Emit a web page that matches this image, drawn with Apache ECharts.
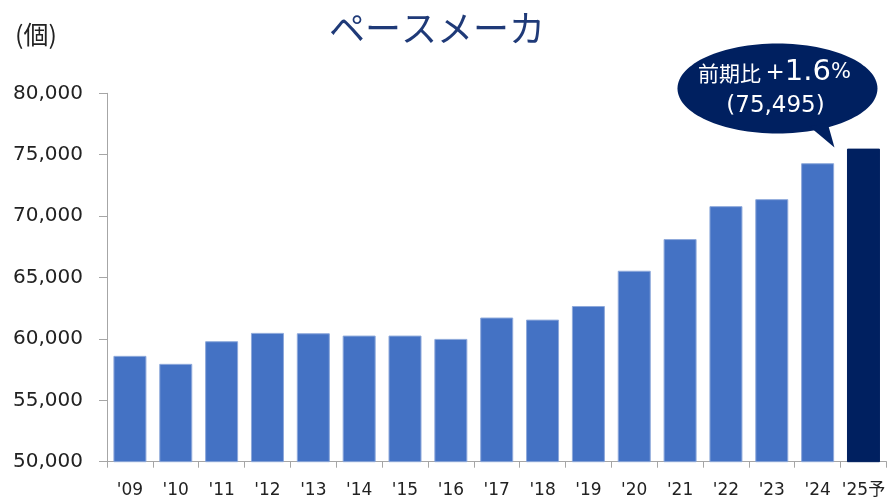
<!DOCTYPE html>
<html><head><meta charset="utf-8">
<script src="https://cdn.jsdelivr.net/npm/echarts@6/dist/echarts.min.js"></script>
<style>html,body{margin:0;padding:0;background:#fff}#c{width:888px;height:499px}</style>
</head><body><div id="c"></div>
<script>
const categories = ["'09","'10","'11","'12","'13","'14","'15","'16","'17","'18","'19","'20","'21","'22","'23","'24","'25予"];
const values = [58620,57970,59810,60490,60460,60270,60270,60000,61740,61570,62680,65550,68130,70810,71380,74306,75495];
const yTicks = [50000,55000,60000,65000,70000,75000,80000];
const titleText = 'ペースメーカ';
const unitText = '(個)';

const FONT = '"DejaVu Sans","Noto Sans CJK JP",sans-serif';
const chart = echarts.init(document.getElementById('c'), null, {renderer:'canvas'});
const lastIdx = values.length - 1;
const barData = values.map((v,i)=>({value:v, itemStyle:{color: i===lastIdx ? '#002060' : '#4472C4', borderColor: i===lastIdx ? '#002060' : '#8EA9DB'}}));

chart.setOption({
  animation:false,
  grid:{left:107, top:93.3, width:784, height:368.4, containLabel:false},
  xAxis:{type:'category', data:categories,
    axisLine:{lineStyle:{color:'#A6A6A6', width:1}},
    axisTick:{show:true, length:6, lineStyle:{color:'#A6A6A6'}, alignWithLabel:false},
    axisLabel:{color:'#222', fontSize:17, fontFamily:FONT, margin:20, interval:0}},
  yAxis:{type:'value', min:yTicks[0], max:yTicks[yTicks.length-1], interval:yTicks[1]-yTicks[0],
    splitLine:{show:false},
    axisLine:{show:true, lineStyle:{color:'#A6A6A6'}},
    axisTick:{show:true, length:8, lineStyle:{color:'#A6A6A6'}},
    axisLabel:{color:'#222', fontSize:20, fontFamily:FONT, margin:24,
      formatter:v=>v.toLocaleString('en-US')}},
  series:[{type:'bar', data:barData, barWidth:33, itemStyle:{borderWidth:1}}]
});

// speech bubble annotation anchored to last bar
const tipPt = chart.convertToPixel({xAxisIndex:0,yAxisIndex:0},[lastIdx, values[lastIdx]]);
const pct = ((values[lastIdx]/values[lastIdx-1]-1)*100).toFixed(1);
const cx = tipPt[0]-86, cy = tipPt[1]-60;
chart.setOption({graphic:[
  {type:'text', x:437, y:28, style:{text:titleText, fill:'#1F3A78', align:'center', verticalAlign:'middle', font:'36px "Noto Sans CJK JP",sans-serif'}},
  {type:'text', x:15, y:34, style:{text:unitText, fill:'#222', verticalAlign:'middle', font:'25px "Noto Sans CJK JP",sans-serif'}},
  {type:'ellipse', shape:{cx:cx, cy:cy, rx:100, ry:45}, style:{fill:'#002060'}, z:10},
  {type:'polygon', shape:{points:[[cx+32,cy+38],[cx+50,cy+34],[tipPt[0]-29,tipPt[1]-1]]}, style:{fill:'#002060'}, z:10},
  {type:'text', x:cx-3, y:cy-16, z:11, style:{
    text:'{a|前期比}{s| }{p|+}{b|'+pct+'}{c|%}', align:'center', verticalAlign:'middle',
    rich:{a:{fill:'#fff', font:'21px "Noto Sans CJK JP",sans-serif'},
          s:{fill:'#fff', font:'14px "DejaVu Sans",sans-serif'},
          p:{fill:'#fff', font:'23px "DejaVu Sans",sans-serif'},
          b:{fill:'#fff', font:'29px "DejaVu Sans",sans-serif'},
          c:{fill:'#fff', font:'21px "DejaVu Sans",sans-serif'}}}},
  {type:'text', x:cx-2, y:cy+17, z:11, style:{
    text:'('+values[lastIdx].toLocaleString('en-US')+')', align:'center', verticalAlign:'middle',
    fill:'#fff', font:'23px "DejaVu Sans",sans-serif'}}
]});
</script></body></html>
